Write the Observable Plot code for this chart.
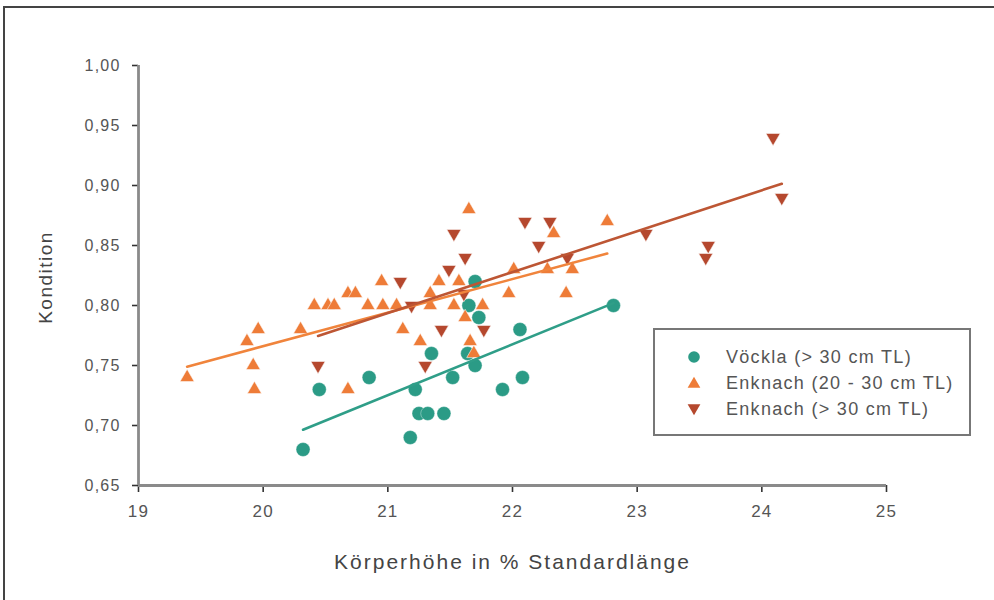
<!DOCTYPE html>
<html><head><meta charset="utf-8">
<script src="https://cdn.jsdelivr.net/npm/d3@7"></script>
<script src="https://cdn.jsdelivr.net/npm/@observablehq/plot@0.6"></script>
<style>
html,body{margin:0;padding:0;background:#fff;overflow:hidden;width:994px;height:600px;}
body{font-family:"Liberation Sans",Arial,sans-serif;}
#frame{position:absolute;left:3px;top:6px;width:1100px;height:700px;border-top:2px solid #444;border-left:2px solid #444;box-sizing:border-box;}
#chart{position:absolute;left:0;top:0;}
#chart svg text{letter-spacing:1.2px;}
#chart svg g.xlab text{letter-spacing:2px;}
#chart svg g.ylab text{letter-spacing:1.5px;}
#legend{position:absolute;left:653px;top:328px;width:318px;height:108px;border:2px solid #777;box-sizing:border-box;background:#fff;}
#legend .row{position:absolute;left:0;height:24px;width:100%;}
#legend .row svg{position:absolute;left:29px;top:3px;}
#legend .row span{position:absolute;left:71px;top:0;line-height:24px;font-size:18px;color:#555;letter-spacing:1.3px;white-space:nowrap;}
</style></head><body>
<div id="frame"></div>
<div id="chart"></div>
<div id="legend"></div>
<script>
// Series names
const seriesNames = ["Vöckla (> 30 cm TL)", "Enknach (20 - 30 cm TL)", "Enknach (> 30 cm TL)"];
const seriesColors = ["#2b9b86", "#ee7c38", "#b5482e"];
const lineColors = ["#2f9e88", "#f0843c", "#bd5634"];

// Vöckla (> 30 cm TL)
const voecklaX = [20.32, 20.45, 20.85, 21.18, 21.22, 21.25, 21.32, 21.35, 21.45, 21.52, 21.64, 21.65, 21.70, 21.70, 21.73, 21.92, 22.06, 22.08, 22.81];
const voecklaY = [0.68, 0.73, 0.74, 0.69, 0.73, 0.71, 0.71, 0.76, 0.71, 0.74, 0.76, 0.80, 0.82, 0.75, 0.79, 0.73, 0.78, 0.74, 0.80];

// Enknach (20 - 30 cm TL)
const enknachSmallX = [19.39, 19.87, 19.92, 19.93, 19.96, 20.30, 20.41, 20.52, 20.57, 20.68, 20.74, 20.68, 20.84, 20.95, 20.96, 21.07, 21.12, 21.26, 21.34, 21.34, 21.41, 21.53, 21.57, 21.62, 21.65, 21.66, 21.69, 21.76, 21.97, 22.01, 22.28, 22.33, 22.43, 22.48, 22.76];
const enknachSmallY = [0.74, 0.77, 0.75, 0.73, 0.78, 0.78, 0.80, 0.80, 0.80, 0.81, 0.81, 0.73, 0.80, 0.82, 0.80, 0.80, 0.78, 0.77, 0.81, 0.80, 0.82, 0.80, 0.82, 0.79, 0.88, 0.77, 0.76, 0.80, 0.81, 0.83, 0.83, 0.86, 0.81, 0.83, 0.87];

// Enknach (> 30 cm TL)
const enknachLargeX = [20.44, 21.10, 21.19, 21.30, 21.43, 21.49, 21.53, 21.61, 21.62, 21.77, 22.10, 22.21, 22.30, 22.44, 23.07, 23.55, 23.57, 24.09, 24.16];
const enknachLargeY = [0.75, 0.82, 0.80, 0.75, 0.78, 0.83, 0.86, 0.81, 0.84, 0.78, 0.87, 0.85, 0.87, 0.84, 0.86, 0.84, 0.85, 0.94, 0.89];

// Axis ticks
const xTicks = [19, 20, 21, 22, 23, 24, 25];
const yTicks = [0.65, 0.70, 0.75, 0.80, 0.85, 0.90, 0.95, 1.00];
const xLabel = "Körperhöhe in % Standardlänge";
const yLabel = "Kondition";

const toRows = (xs, ys) => xs.map((x, i) => ({x, y: ys[i]}));
const voeckla = toRows(voecklaX, voecklaY);
const enknachSmall = toRows(enknachSmallX, enknachSmallY);
const enknachLarge = toRows(enknachLargeX, enknachLargeY);

const fmt = d => d.toFixed(2).replace(".", ",");

const chart = Plot.plot({
  width: 994,
  height: 600,
  marginLeft: 138,
  marginRight: 108,
  marginTop: 65,
  marginBottom: 115,
  x: {domain: [19, 25]},
  y: {domain: [0.65, 1.0]},
  style: {fontFamily: "'Liberation Sans', Arial, sans-serif", background: "transparent", color: "#555"},
  marks: [
    Plot.axisY({ticks: yTicks, tickFormat: fmt, tickSize: 6, tickPadding: 12, fontSize: 16, stroke: "#333", strokeWidth: 1.6, fill: "#555", label: null}),
    Plot.axisX({ticks: xTicks, tickFormat: d => String(d), tickSize: 7, tickPadding: 12, fontSize: 17, stroke: "#333", strokeWidth: 1.6, fill: "#555", label: null}),
    Plot.ruleX([19], {stroke: "#8a8a8a", strokeWidth: 2.8}),
    Plot.ruleY([0.65], {stroke: "#8a8a8a", strokeWidth: 2.8}),
    Plot.dot(voeckla, {x: "x", y: "y", r: 7, symbol: "circle", fill: seriesColors[0], stroke: "#fff", strokeWidth: 0.6, strokeOpacity: 0.6}),
    Plot.dot(enknachSmall, {x: "x", y: "y", r: 5.3, symbol: "triangle", fill: seriesColors[1], stroke: "#fff", strokeWidth: 0.8, strokeOpacity: 0.7}),
    Plot.dot(enknachLarge, {x: "x", y: "y", r: 5.3, symbol: "triangle", rotate: 180, fill: seriesColors[2], stroke: "#fff", strokeWidth: 0.8, strokeOpacity: 0.7}),
    Plot.linearRegressionY(voeckla, {x: "x", y: "y", ci: 0, stroke: lineColors[0], strokeWidth: 2.6}),
    Plot.linearRegressionY(enknachSmall, {x: "x", y: "y", ci: 0, stroke: lineColors[1], strokeWidth: 2.6}),
    Plot.linearRegressionY(enknachLarge, {x: "x", y: "y", ci: 0, stroke: lineColors[2], strokeWidth: 2.6}),
    Plot.text([xLabel], {frameAnchor: "bottom", textAnchor: "middle", lineAnchor: "middle", dy: 77, fontSize: 21, fill: "#444", className: "xlab"}),
    Plot.text([yLabel], {frameAnchor: "left", textAnchor: "middle", lineAnchor: "middle", rotate: -90, dx: -93, dy: 2, fontSize: 19, fill: "#444", className: "ylab"})
  ]
});
document.getElementById("chart").appendChild(chart);

// Legend (HTML overlay)
const legend = document.getElementById("legend");
const symbolSvg = [
  c => `<svg width="20" height="18"><circle cx="10" cy="9" r="5.8" fill="${c}"/></svg>`,
  c => `<svg width="20" height="18"><path d="${d3.symbol(d3.symbolTriangle, 70)()}" transform="translate(10,10)" fill="${c}"/></svg>`,
  c => `<svg width="20" height="18"><path d="${d3.symbol(d3.symbolTriangle, 70)()}" transform="translate(10,8) rotate(180)" fill="${c}"/></svg>`
];
const rowTops = [15, 41, 67];
seriesNames.forEach((name, i) => {
  const row = document.createElement("div");
  row.className = "row";
  row.style.top = rowTops[i] + "px";
  row.innerHTML = symbolSvg[i](seriesColors[i]) + `<span></span>`;
  row.querySelector("span").textContent = name;
  legend.appendChild(row);
});
</script>
</body></html>
